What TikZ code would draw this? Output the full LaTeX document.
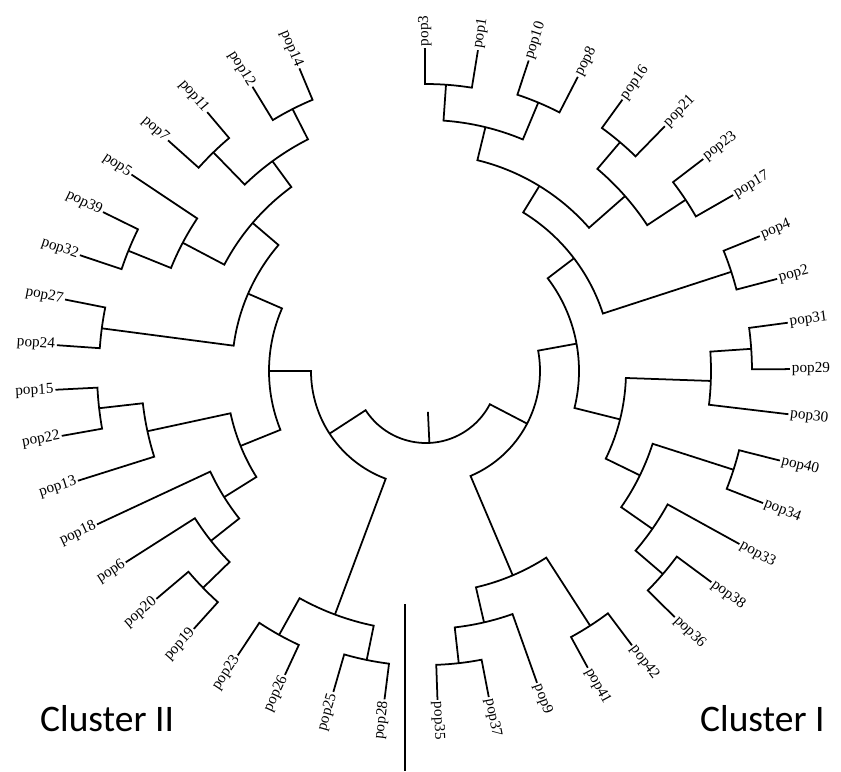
\documentclass[tikz,border=0pt]{standalone}
\usepackage{fontspec}
\setmainfont{Liberation Serif}
\newfontfamily\clusterfont{Carlito}
\usetikzlibrary{calc}

\begin{document}
\begin{tikzpicture}[x=0.03cm, y=0.03cm,
    branch/.style={line width=1.5pt, line join=miter},
    leaf/.style={inner sep=1.5pt, font=\fontsize{13}{15}\selectfont},
    cluster/.style={inner sep=0pt, anchor=base west, font=\clusterfont\fontsize{32}{38}\selectfont}]
\useasboundingbox (-426,-400) rectangle (415,371);

% clade: radius / angle1 / end radius1 / angle2 / end radius2
\foreach \r/\a/\ra/\b/\rb in {
    287/90.2/323/80.8/325, 291/71.7/327/62.7/331, 251/86/287/67.3/291,
    300/54.1/335/45.7/342, 311/37.4/349/29.8/354, 265/49.7/300/33.4/311,
    217/76.3/251/41.3/265, 321/22/360/14.7/363, 186/58.5/217/18/321,
    326/7.6/365/0.3/364, 285/3.9/326/-6.8/365, 323/-14.2/365/-21.4/362,
    312/-36.5/355/-44.7/350, 276/-28.9/358/-40.6/312, 238/-17.8/323/-34.9/276,
    200/-2/285/-26/238, 153/37.3/186/-14/200,
    303/-53.1/343/-61.4/338, 294/-79.1/332/-88/329, 258/-70.4/331/-83.6/294,
    222/-57.2/303/-77/258, 114/10.3/153/-67/222,
    294/112.7/328/121.4/333, 305/130.2/339/138.2/346, 260/117/294/134.2/305,
    321/153.8/360/161.5/365, 275/146.3/354/158/321, 228/126.2/260/152.2/275,
    327/168.8/368/176/370, 194/139.5/228/172.5/327,
    329/182.9/371/190.1/370, 285/186.5/329/197.5/365,
    311/220.2/353/228/347, 274/212.5/356/224.2/311, 238/205/363/218.3/274,
    200/192.2/285/212/238, 157/156.5/194/202/200,
    302/236.5/341/245.1/335, 295/253.9/334/262.8/331, 260/240.9/302/258.4/295,
    115/180/157/249.5/260,
    72/-147/115/-27.5/114}
  \draw[branch] (\a:\ra) -- (\a:\r) arc[start angle=\a, end angle=\b, radius=\r] -- (\b:\rb);

% root
\coordinate (root) at (-87.3:72);
\coordinate (rootEnd) at (-87.3:41);
\draw[branch] (root) -- (rootEnd);

% Cluster I leaves
\foreach \t/\r/\name in {90.2/323/pop3, 80.8/325/pop1, 71.7/327/pop10, 62.7/331/pop8,
    54.1/335/pop16, 45.7/342/pop21, 37.4/349/pop23, 29.8/354/pop17, 22/360/pop4,
    14.7/363/pop2, 7.6/365/pop31, 0.3/364/pop29, -6.8/365/pop30, -14.2/365/pop40,
    -21.4/362/pop34, -28.9/358/pop33, -36.5/355/pop38, -44.7/350/pop36,
    -53.1/343/pop42, -61.4/338/pop41, -70.4/331/pop9, -79.1/332/pop37, -88/329/pop35}
  \node[leaf, anchor=west, rotate=\t] (r-\name) at (\t:\r) {\name};

% Cluster II leaves
\foreach \t/\r/\name in {112.7/328/pop14, 121.4/333/pop12, 130.2/339/pop11, 138.2/346/pop7,
    146.3/354/pop5, 153.8/360/pop39, 161.5/365/pop32, 168.8/368/pop27, 176/370/pop24,
    182.9/371/pop15, 190.1/370/pop22, 197.5/365/pop13, 205/363/pop18, 212.5/356/pop6,
    220.2/353/pop20, 228/347/pop19, 236.5/341/pop23, 245.1/335/pop26,
    253.9/334/pop25, 262.8/331/pop28}
  \node[leaf, anchor=east, rotate=\t-180] (l-\name) at (\t:\r) {\name};

% divider and cluster names
\coordinate (sepTop) at (-21,-233);
\coordinate (sepBot) at (-21,-400);
\draw[branch] (sepTop) -- (sepBot);
\node[cluster] (c2) at (-386,-360) {Cluster II};
\node[cluster] (c1) at (274,-360) {Cluster I};
\end{tikzpicture}
\end{document}
